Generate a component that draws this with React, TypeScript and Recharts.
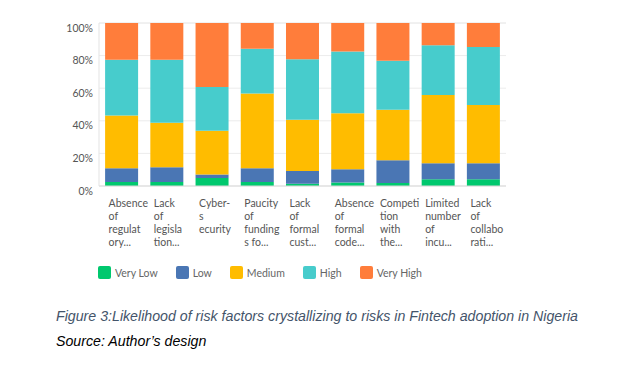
import React from "react";
import { BarChart, Bar, XAxis, YAxis, CartesianGrid, Legend } from "recharts";

const categories = [
  "Absence\nof\nregulat\nory...",
  "Lack\nof\nlegisla\ntion...",
  "Cyber-\ns\necurity",
  "Paucity\nof\nfunding\ns fo...",
  "Lack\nof\nformal\ncust...",
  "Absence\nof\nformal\ncode...",
  "Competi\ntion\nwith\nthe...",
  "Limited\nnumber\nof\nincu...",
  "Lack\nof\ncollabo\nrati..."
];

const veryLow = [2.5, 2.5, 4.9, 2.5, 1.4, 2.1, 1.8, 4.1, 4.1];
const low = [8.4, 9.0, 2.1, 8.4, 7.8, 8.2, 14.0, 9.9, 9.9];
const medium = [32.4, 27.3, 26.9, 45.8, 31.5, 34.3, 31.0, 41.9, 35.7];
const high = [34.1, 38.6, 26.9, 27.5, 37.1, 37.9, 30.0, 30.5, 35.5];
const veryHigh = [22.6, 22.6, 39.2, 15.8, 22.2, 17.5, 23.2, 13.6, 14.8];

const yTicks = [0, 10, 20, 30, 40, 50, 60, 70, 80, 90, 100];

const series = [
  { key: "veryLow", name: "Very Low", color: "#00C86E" },
  { key: "low", name: "Low", color: "#4A76B4" },
  { key: "medium", name: "Medium", color: "#FFBC00" },
  { key: "high", name: "High", color: "#47CCCC" },
  { key: "veryHigh", name: "Very High", color: "#FF7D3B" }
];

const data = categories.map((cat, i) => ({
  cat,
  veryLow: veryLow[i],
  low: low[i],
  medium: medium[i],
  high: high[i],
  veryHigh: veryHigh[i]
}));

const FONT = "Lato, 'Open Sans', sans-serif";

const XTick = (props: any) => {
  const { x, y, payload } = props;
  const lines = String(payload.value).split("\n");
  return (
    <text x={x - 13} y={y} fill="#555" fontSize={10.5} fontFamily={FONT} textAnchor="start">
      {lines.map((l, i) => (
        <tspan key={i} x={x - 13} dy={i === 0 ? 12.5 : 13}>
          {l}
        </tspan>
      ))}
    </text>
  );
};

const YTick = (props: any) => {
  const { x, y, payload } = props;
  if (payload.value % 20 !== 0) return null;
  return (
    <text x={x + 5} y={y + 5} dy="0.35em" fill="#555" fontSize={10.5} fontFamily={FONT} textAnchor="end">
      {payload.value}%
    </text>
  );
};

const renderLegend = () => (
  <div style={{ display: "flex", alignItems: "center", gap: 18, fontFamily: FONT, fontSize: 10.5, color: "#666" }}>
    {series.map((s) => (
      <div key={s.key} style={{ display: "flex", alignItems: "center" }}>
        <div style={{ width: 13, height: 13, borderRadius: 2, backgroundColor: s.color, marginRight: 4 }} />
        <span>{s.name}</span>
      </div>
    ))}
  </div>
);

export default function App() {
  return (
    <div style={{ position: "absolute", left: 0, top: 0, width: 628, height: 382, background: "#fff" }}>
      <BarChart
        width={628}
        height={300}
        data={data}
        margin={{ top: 23, right: 122, bottom: 0, left: 59 }}
        barCategoryGap="13.5%"
      >
        <CartesianGrid horizontal vertical={false} stroke="#ececec" />
        <XAxis
          dataKey="cat"
          interval={0}
          height={114}
          tickLine={false}
          axisLine={{ stroke: "#d9d9d9" }}
          tick={<XTick />}
        />
        <YAxis
          width={40}
          domain={[0, 100]}
          ticks={yTicks}
          tickLine={false}
          axisLine={{ stroke: "#e3e3e3" }}
          tickMargin={5}
          tick={<YTick />}
        />
        <Legend
          layout="horizontal"
          verticalAlign="middle"
          align="center"
          content={renderLegend}
          wrapperStyle={{ position: "absolute", top: 266, left: 98, width: "auto" }}
        />
        {series.map((s) => (
          <Bar key={s.key} dataKey={s.key} name={s.name} stackId="a" fill={s.color} isAnimationActive={false} />
        ))}
      </BarChart>
      <div
        style={{
          position: "absolute",
          left: 56,
          top: 308,
          fontFamily: "'Liberation Sans', Arial, sans-serif",
          fontStyle: "italic",
          fontSize: 14.2,
          lineHeight: "17px"
        }}
      >
        <div style={{ color: "#44546A" }}>
          Figure 3:Likelihood of risk factors crystallizing to risks in Fintech adoption in Nigeria
        </div>
        <div style={{ color: "#000", marginTop: 8 }}>Source: Author’s design</div>
      </div>
    </div>
  );
}
